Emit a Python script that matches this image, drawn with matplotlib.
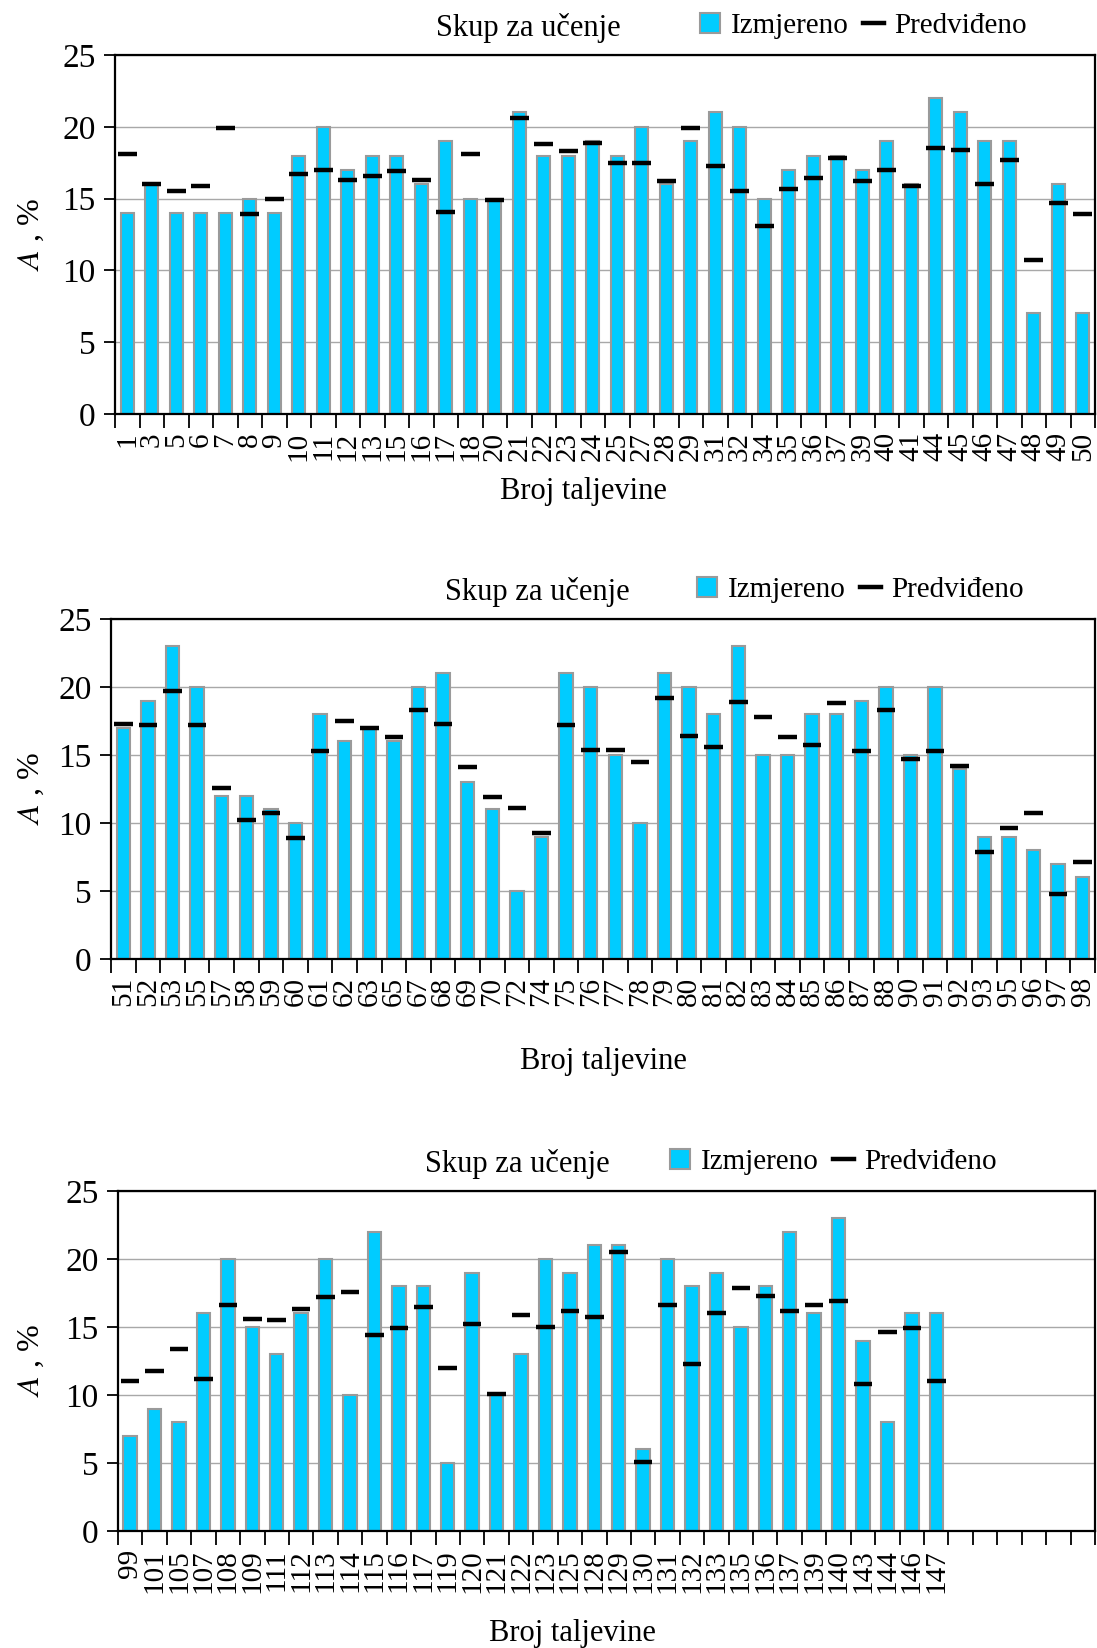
import matplotlib
matplotlib.use("Agg")
import matplotlib.pyplot as plt
import numpy as np
from matplotlib.patches import Patch
from matplotlib.lines import Line2D

plt.rcParams["font.family"] = ["Liberation Serif", "DejaVu Serif"]
plt.rcParams["mathtext.fontset"] = "stix"

# ---- panel 1 data
heats_1 = ["1", "3", "5", "6", "7", "8", "9", "10", "11", "12", "13", "15", "16", "17",
           "18", "20", "21", "22", "23", "24", "25", "27", "28", "29", "31", "32", "34",
           "35", "36", "37", "39", "40", "41", "44", "45", "46", "47", "48", "49", "50"]
measured_1 = [14, 16, 14, 14, 14, 15, 14, 18, 20, 17, 18, 18, 16, 19, 15, 15, 21, 18, 18, 19,
              18, 20, 16, 19, 21, 20, 15, 17, 18, 18, 17, 19, 16, 22, 21, 19, 19, 7, 16, 7]
predicted_1 = [18.1, 16.0, 15.5, 15.9, 19.9, 13.9, 15.0, 16.7, 17.0, 16.3, 16.6, 16.9, 16.3,
               14.1, 18.1, 14.9, 20.6, 18.8, 18.3, 18.9, 17.5, 17.5, 16.2, 19.9, 17.3, 15.5,
               13.1, 15.7, 16.4, 17.8, 16.2, 17.0, 15.9, 18.5, 18.4, 16.0, 17.7, 10.7, 14.7, 13.9]

# ---- panel 2 data
heats_2 = ["51", "52", "53", "55", "57", "58", "59", "60", "61", "62", "63", "65", "67", "68",
           "69", "70", "72", "74", "75", "76", "77", "78", "79", "80", "81", "82", "83", "84",
           "85", "86", "87", "88", "90", "91", "92", "93", "95", "96", "97", "98"]
measured_2 = [17, 19, 23, 20, 12, 12, 11, 10, 18, 16, 17, 16, 20, 21, 13, 11, 5, 9, 21, 20,
              15, 10, 21, 20, 18, 23, 15, 15, 18, 18, 19, 20, 15, 20, 14, 9, 9, 8, 7, 6]
predicted_2 = [17.3, 17.2, 19.7, 17.2, 12.6, 10.2, 10.7, 8.9, 15.3, 17.5, 17.0, 16.3, 18.3,
               17.3, 14.1, 11.9, 11.1, 9.3, 17.2, 15.4, 15.4, 14.5, 19.2, 16.4, 15.6, 18.9,
               17.8, 16.3, 15.7, 18.8, 15.3, 18.3, 14.7, 15.3, 14.2, 7.9, 9.6, 10.7, 4.8, 7.1]

# ---- panel 3 data
heats_3 = ["99", "101", "105", "107", "108", "109", "111", "112", "113", "114", "115", "116",
           "117", "119", "120", "121", "122", "123", "125", "128", "129", "130", "131", "132",
           "133", "135", "136", "137", "139", "140", "143", "144", "146", "147"]
measured_3 = [7, 9, 8, 16, 20, 15, 13, 16, 20, 10, 22, 18, 18, 5, 19, 10, 13, 20, 19, 21, 21,
              6, 20, 18, 19, 15, 18, 22, 16, 23, 14, 8, 16, 16]
predicted_3 = [11.0, 11.8, 13.4, 11.2, 16.6, 15.6, 15.5, 16.3, 17.2, 17.6, 14.4, 14.9, 16.5,
               12.0, 15.2, 10.1, 15.9, 15.0, 16.2, 15.7, 20.5, 5.1, 16.6, 12.3, 16.0, 17.9,
               17.3, 16.2, 16.6, 16.9, 10.8, 14.6, 14.9, 11.0]

N_SLOTS = 40
BAR_COLOR = "#00CCFF"
EDGE = "#9A9A9A"
W, H = 1097, 1648


def panel(fig, box, labels, meas, pred, title_x, leg_x, xlab_xy):
    # box = (left, top, right, bottom) in pixels
    l, t, r, b = box
    ax = fig.add_axes([l / W, 1 - b / H, (r - l) / W, (b - t) / H])
    x = np.arange(len(labels))
    ax.bar(x, meas, width=0.55, color=BAR_COLOR, edgecolor=EDGE, linewidth=1.5, zorder=2)
    ax.hlines(pred, x - 0.38, x + 0.38, color="black", lw=3.2, zorder=3)

    ax.set_xlim(-0.5, N_SLOTS - 0.5)
    ax.set_ylim(0, 25)
    ax.set_yticks(np.arange(0, 26, 5))
    ax.yaxis.grid(True, color="#A8A8A8", lw=1.0, zorder=0)
    ax.set_axisbelow(True)

    ax.set_xticks(x)
    ax.set_xticklabels(labels, rotation=90, fontsize=21)
    ax.set_xticks(np.arange(N_SLOTS + 1) - 0.5, minor=True)
    ax.tick_params(axis="x", which="major", length=0, pad=13)
    ax.tick_params(axis="x", which="minor", length=10, width=1.3, direction="out")
    ax.tick_params(axis="y", length=8, width=1.3, direction="out", labelsize=24, pad=6)
    for s in ax.spines.values():
        s.set_linewidth(1.6)

    ax.set_ylabel("$A$ , %", fontsize=23)
    ax.yaxis.set_label_coords((46 - l) / (r - l), 0.5)

    def ax_pt(px, py):
        return (px - l) / (r - l), (b - py) / (b - t)

    ax.text(*ax_pt(title_x, t - 27), "Skup za učenje", transform=ax.transAxes,
            ha="center", va="center", fontsize=22)
    handles = [Patch(facecolor=BAR_COLOR, edgecolor=EDGE, linewidth=1.5),
               Line2D([], [], color="black", lw=3.2)]
    ax.legend(handles, ["Izmjereno", "Predviđeno"], loc="center left",
              bbox_to_anchor=ax_pt(leg_x, t - 29), ncol=2, frameon=False,
              fontsize=21, handlelength=0.7, handleheight=0.7, handletextpad=0.35,
              columnspacing=0.5, borderpad=0, borderaxespad=0)

    ax.text(*ax_pt(*xlab_xy), "Broj taljevine", transform=ax.transAxes,
            ha="center", va="center", fontsize=22)
    return ax


fig = plt.figure(figsize=(W / 100, H / 100), dpi=100)

panel(fig, (115, 55, 1095, 414), heats_1, measured_1, predicted_1, 528, 700, (583, 492))
panel(fig, (111, 619, 1095, 959), heats_2, measured_2, predicted_2, 537, 697, (603, 1062))
panel(fig, (118, 1191, 1095, 1531), heats_3, measured_3, predicted_3, 517, 670, (572, 1634))

fig.savefig("out.png", dpi=100)
